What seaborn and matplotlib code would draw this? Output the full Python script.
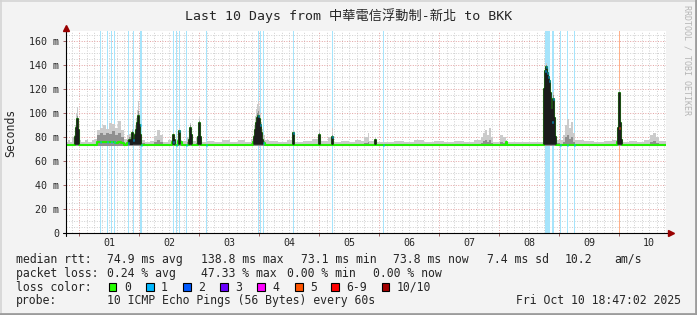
import numpy as np
import matplotlib
matplotlib.use("Agg")
import matplotlib.pyplot as plt
from matplotlib.lines import Line2D
from matplotlib.patches import Rectangle
from matplotlib.ticker import FixedLocator, MultipleLocator, NullFormatter
import seaborn as sns

# ---------------- data (hours since 2025-10-01 00:00) ----------------
start_hour, end_hour = -5.22, 234.78

hours = [
    -5.2, -4.4, -3.6, -2.8, -2.0, -1.6, -1.2, -0.8, -0.4, 0.0,
    0.8, 2.4, 3.6, 5.2, 6.4, 7.2, 8.4, 9.6, 10.8, 12.0,
    13.2, 14.4, 15.6, 16.8, 18.0, 19.2, 20.0, 20.8, 21.2, 21.6,
    22.4, 22.8, 23.2, 23.6, 24.0, 24.4, 24.8, 26.4, 28.4, 30.0,
    31.2, 32.4, 33.6, 35.6, 37.2, 37.6, 38.0, 38.4, 39.6, 40.0,
    40.4, 41.2, 43.2, 44.0, 44.4, 44.8, 45.2, 46.8, 47.6, 48.0,
    48.4, 48.8, 51.2, 54.0, 57.2, 60.4, 63.6, 66.4, 68.8, 69.6,
    70.0, 70.4, 70.8, 71.2, 71.6, 72.0, 72.4, 72.8, 73.2, 73.6,
    74.4, 76.0, 79.6, 83.2, 85.6, 86.0, 89.6, 93.2, 96.0, 96.4,
    99.6, 101.2, 101.6, 104.8, 108.0, 110.4, 112.8, 114.0, 115.6, 116.0,
    118.4, 118.8, 122.0, 126.0, 130.0, 134.0, 138.0, 142.0, 146.0, 150.0,
    154.0, 158.0, 160.8, 161.6, 162.4, 163.2, 164.0, 164.8, 165.6, 168.4,
    169.6, 170.8, 171.2, 175.0, 180.0, 184.0, 186.0, 186.4, 186.8, 187.2,
    187.6, 188.0, 188.4, 188.8, 189.2, 189.6, 190.0, 190.4, 190.8, 192.4,
    193.6, 194.4, 195.2, 196.0, 196.8, 197.6, 198.4, 202.0, 206.0, 210.0,
    213.2, 215.2, 215.6, 216.0, 216.4, 216.8, 217.2, 220.0, 223.2, 226.0,
    228.4, 229.6, 230.8, 232.0, 234.8,
]

median_ms = [
    73.8, 73.6, 73.8, 73.6, 74.0, 80.0, 88.0, 95.0, 86.0, 74.0,
    73.6, 73.8, 73.6, 73.6, 73.8, 75.8, 76.0, 76.0, 76.2, 75.8,
    76.0, 75.5, 75.8, 75.5, 74.0, 75.0, 78.0, 76.0, 84.0, 78.0,
    82.0, 86.0, 92.0, 98.0, 90.0, 82.0, 74.0, 73.6, 73.8, 74.0,
    74.0, 74.0, 73.6, 73.8, 76.0, 82.0, 78.0, 73.6, 77.0, 85.0,
    76.0, 73.8, 74.0, 78.0, 88.0, 82.0, 74.0, 74.0, 80.0, 92.0,
    80.0, 74.0, 73.8, 73.6, 73.8, 73.6, 73.8, 73.8, 74.0, 76.0,
    80.0, 86.0, 92.0, 96.0, 98.0, 95.0, 90.0, 84.0, 78.0, 75.0,
    74.0, 73.8, 73.8, 73.8, 84.0, 73.8, 73.8, 73.6, 82.0, 74.0,
    73.8, 80.0, 74.0, 73.8, 73.8, 74.0, 74.0, 74.0, 74.0, 74.0,
    78.0, 73.8, 73.6, 73.8, 73.6, 73.8, 73.6, 73.8, 73.6, 73.8,
    73.6, 73.8, 74.0, 74.0, 74.0, 74.0, 74.0, 74.0, 73.8, 74.0,
    74.0, 76.0, 73.8, 73.6, 73.8, 73.6, 120.0, 135.0, 139.0, 134.0,
    130.0, 127.0, 117.0, 103.0, 93.0, 112.0, 96.0, 80.0, 74.0, 74.0,
    74.0, 74.0, 74.0, 74.0, 74.0, 74.0, 73.8, 73.8, 73.6, 73.8,
    74.0, 76.0, 88.0, 117.0, 92.0, 78.0, 74.0, 73.8, 73.6, 74.0,
    74.0, 74.0, 74.0, 73.8, 73.8,
]

dense_ms = [
    73.8, 73.6, 73.8, 74.5, 76.0, 84.0, 92.0, 98.0, 90.0, 74.0,
    73.6, 73.8, 73.6, 73.6, 74.0, 82.0, 84.0, 82.0, 84.0, 83.0,
    85.0, 82.0, 84.0, 80.0, 75.0, 78.0, 80.0, 78.0, 85.0, 80.0,
    86.0, 90.0, 96.0, 102.0, 94.0, 84.0, 75.0, 73.6, 73.8, 76.0,
    78.0, 76.0, 73.6, 74.0, 78.0, 83.0, 79.0, 73.6, 78.0, 86.0,
    76.0, 73.8, 76.0, 80.0, 90.0, 84.0, 74.0, 75.0, 82.0, 94.0,
    82.0, 74.0, 73.8, 73.6, 73.8, 73.6, 73.8, 73.8, 75.0, 78.0,
    84.0, 90.0, 96.0, 100.0, 102.0, 99.0, 94.0, 88.0, 82.0, 77.0,
    74.5, 73.8, 73.8, 73.8, 84.0, 73.8, 73.8, 74.0, 84.0, 74.0,
    74.0, 82.0, 74.0, 73.8, 73.8, 74.0, 74.0, 75.0, 76.0, 74.0,
    78.0, 73.8, 73.6, 73.8, 73.6, 73.8, 73.6, 73.8, 73.6, 73.8,
    73.6, 74.0, 75.0, 77.0, 78.0, 76.0, 78.0, 75.0, 73.8, 76.0,
    75.0, 77.0, 73.8, 73.6, 73.8, 73.6, 124.0, 137.0, 140.0, 136.0,
    132.0, 128.0, 119.0, 105.0, 95.0, 115.0, 99.0, 83.0, 75.0, 74.0,
    76.0, 80.0, 82.0, 79.0, 80.0, 76.0, 74.0, 73.8, 73.6, 73.8,
    74.0, 78.0, 92.0, 118.0, 95.0, 80.0, 74.0, 73.8, 73.6, 74.0,
    76.0, 77.0, 75.0, 73.8, 73.8,
]

smoke_ms = [
    76.5, 78.0, 76.0, 80.0, 82.0, 90.0, 100.0, 105.0, 96.0, 78.0,
    76.5, 78.0, 76.0, 77.5, 79.0, 86.0, 88.0, 90.0, 87.0, 92.0,
    91.0, 88.0, 94.0, 86.0, 79.0, 82.0, 83.0, 81.0, 87.0, 84.0,
    90.0, 96.0, 103.0, 110.0, 100.0, 88.0, 78.0, 76.0, 77.0, 81.0,
    86.0, 82.0, 76.5, 78.0, 80.0, 84.0, 80.0, 76.0, 80.0, 88.0,
    78.0, 77.0, 80.0, 84.0, 92.0, 86.0, 77.0, 80.0, 86.0, 98.0,
    86.0, 76.0, 77.0, 76.0, 77.5, 76.0, 78.0, 76.5, 79.0, 82.0,
    90.0, 98.0, 104.0, 108.0, 110.0, 106.0, 100.0, 93.0, 87.0, 82.0,
    78.0, 77.0, 76.5, 78.0, 86.0, 76.5, 77.0, 79.0, 87.0, 77.0,
    80.0, 88.0, 76.5, 77.0, 76.5, 78.0, 77.0, 80.0, 84.0, 77.0,
    80.0, 76.0, 76.5, 77.0, 76.0, 77.5, 76.0, 77.0, 76.5, 77.0,
    76.0, 78.0, 80.0, 84.0, 86.0, 82.0, 88.0, 80.0, 76.5, 82.0,
    80.0, 78.0, 76.0, 76.0, 76.5, 76.0, 128.0, 140.0, 142.0, 138.0,
    134.0, 130.0, 122.0, 108.0, 98.0, 118.0, 102.0, 86.0, 78.0, 78.0,
    82.0, 90.0, 95.0, 88.0, 93.0, 84.0, 78.0, 77.0, 76.0, 77.0,
    78.0, 80.0, 98.0, 120.0, 100.0, 82.0, 76.0, 77.0, 76.5, 78.0,
    82.0, 84.0, 80.0, 77.0, 77.0,
]

loss_hours = [8.3, 11.1, 12.8, 14.0, 19.6, 21.6, 24.2, 24.8, 37.5, 38.8,
              40.0, 42.8, 50.7, 71.6, 72.4, 73.6, 85.6, 101.2, 121.6, 186.4,
              186.8, 187.2, 187.6, 188.0, 189.2, 189.6, 192.4, 195.2, 198.0, 215.8]
loss_count = [1, 1, 1, 1, 1, 1, 1, 1, 1, 1,
              1, 1, 1, 1, 1, 1, 1, 1, 1, 1,
              1, 1, 1, 1, 1, 1, 1, 1, 1, 5]

day_labels = ["01", "02", "03", "04", "05", "06", "07", "08", "09", "10"]
y_ticks = [0, 20, 40, 60, 80, 100, 120, 140, 160]
y_tick_labels = ["0", "20 m", "40 m", "60 m", "80 m", "100 m", "120 m", "140 m", "160 m"]

legend_labels = ["0", "1", "2", "3", "4", "5", "6-9", "10/10"]
legend_colors = ["#26ff00", "#00b8ff", "#0059ff", "#6a00ff", "#ff00ff", "#ff5500", "#ff0000", "#a10000"]
band_colors = {1: "#a6e4fb", 5: "#ffb08a"}
line_colors = {1: "#00b8ff", 5: "#ff5500"}

title = "Last 10 Days from 中華電信浮動制-新北 to BKK"

# ---------------- style ----------------
sns.set_style("white")
plt.rcParams['font.family'] = ['DejaVu Sans Mono', 'Noto Sans CJK TC']
plt.rcParams['axes.unicode_minus'] = False

BG = "#f3f3f3"
W, H = 697, 315
fig = plt.figure(figsize=(W / 100, H / 100), dpi=100, facecolor=BG)


def fx(px):
    return px / W


def fy(py):
    return 1 - py / H


ax_l, ax_r, ax_t, ax_b = 66, 666, 31, 233.3
ax = fig.add_axes([fx(ax_l), fy(ax_b), (ax_r - ax_l) / W, (ax_b - ax_t) / H])
ax.set_facecolor("white")
ax.set_xlim(start_hour, end_hour)
ax.set_ylim(0, 168.6)

# grid
midnights = [24 * k for k in range(10)]
ax.xaxis.set_major_locator(FixedLocator(midnights))
ax.xaxis.set_minor_locator(MultipleLocator(3))
ax.xaxis.set_major_formatter(NullFormatter())
ax.yaxis.set_major_locator(FixedLocator(y_ticks))
ax.yaxis.set_minor_locator(MultipleLocator(5))
ax.set_yticklabels(y_tick_labels, fontsize=7.2)
ax.grid(True, which="minor", color="#cfcfcf", linestyle=(0, (1, 1.6)), linewidth=0.7)
ax.grid(True, which="major", color="#e2a0a0", linestyle=(0, (1, 1.6)), linewidth=0.7)
ax.set_axisbelow(True)
ax.tick_params(axis="y", which="major", length=2.2, width=0.7, color="#a06060", pad=2.5, left=True)
ax.tick_params(axis="x", which="major", length=2.2, width=0.7, color="#a06060", bottom=True)
ax.tick_params(which="minor", length=0)
for s in ax.spines.values():
    s.set_visible(False)

# loss bands
for t, c in zip(loss_hours, loss_count):
    ax.axvspan(t, t + 0.45, color=band_colors[c], lw=0, zorder=1.5)

# smoke
floor = 73.1
ax.fill_between(hours, floor, smoke_ms, step="post", color="#cbcbcb", lw=0, zorder=2)
ax.fill_between(hours, floor, dense_ms, step="post", color="#8f8f8f", lw=0, zorder=2.2)

# median line
sns.lineplot(x=hours, y=median_ms, ax=ax, drawstyle="steps-post", color="#22f000",
             linewidth=1.5, estimator=None, sort=False, legend=False, zorder=3)
med = np.array(median_ms)
spike = med > 77.0
core_floor = 74.2
core_top = np.where(spike, med, core_floor)
core_mask = spike | np.r_[False, spike[:-1]]
ax.fill_between(hours, core_floor, core_top, where=core_mask, step="post",
                facecolor="#1c1c1c", edgecolor="#1c1c1c", lw=1.1, zorder=3.5)

hrs = np.array(hours)
for t, c in zip(loss_hours, loss_count):
    i = np.searchsorted(hrs, t, side="right") - 1
    ax.hlines(med[i], t, t + 0.45, color=line_colors[c], lw=1.8, zorder=4)

# axes lines & arrows
ax.plot([-3 / 600, 1 + 3 / 600], [0, 0], transform=ax.transAxes, color="black", lw=0.8, clip_on=False, zorder=5)
ax.plot([0, 0], [-3 / 202.3, 1 + 1 / 202.3], transform=ax.transAxes, color="black", lw=0.8, clip_on=False, zorder=5)
ax.plot([0], [1 + 3.5 / 202.3], transform=ax.transAxes, marker="^", ms=5, color="#990000", clip_on=False, zorder=6)
ax.plot([1 + 4.5 / 600], [0], transform=ax.transAxes, marker=">", ms=5, color="#990000", clip_on=False, zorder=6)

# day labels at noon
for k, lab in enumerate(day_labels):
    ax.text(12 + 24 * k, -(242.7 - ax_b) / (ax_b - ax_t), lab, transform=ax.get_xaxis_transform(),
            ha="center", va="center", fontsize=7.2)

# titles
fig.text(fx(348.5), fy(15.5), title, ha="center", va="center", fontsize=9.5)
fig.text(fx(11), fy(133), "Seconds", rotation=90, ha="center", va="center", fontsize=8.3)
fig.text(fx(686.5), fy(5), "RRDTOOL / TOBI OETIKER", rotation=270, ha="center", va="top",
         fontsize=6, color="#b5b5b5")

# legend
fs = 8.3
rows_y = [259.3, 273.3, 287.3, 300.7]
row1 = [("median rtt:", 16), ("74.9 ms avg", 107), ("138.8 ms max", 201), ("73.1 ms min", 301),
        ("73.8 ms now", 393), ("7.4 ms sd", 487), ("10.2", 565), ("am/s", 614)]
row2 = [("packet loss:", 16), ("0.24 % avg", 107), ("47.33 % max", 201), ("0.00 % min", 287),
        ("0.00 % now", 373)]
for s, x in row1:
    fig.text(fx(x), fy(rows_y[0]), s, ha="left", va="center", fontsize=fs)
for s, x in row2:
    fig.text(fx(x), fy(rows_y[1]), s, ha="left", va="center", fontsize=fs)
fig.text(fx(16), fy(rows_y[2]), "loss color:", ha="left", va="center", fontsize=fs)
box_x = [108.5, 145.8, 182.8, 220.0, 257.3, 295.0, 331.0, 381.7]
for bx, lab, col in zip(box_x, legend_labels, legend_colors):
    fig.add_artist(Rectangle((fx(bx), fy(291)), 7.7 / W, 8 / H, transform=fig.transFigure,
                             facecolor=col, edgecolor="black", lw=0.8))
    fig.text(fx(bx + 15.3), fy(rows_y[2]), lab, ha="left", va="center", fontsize=fs)
fig.text(fx(16), fy(rows_y[3]), "probe:", ha="left", va="center", fontsize=fs)
fig.text(fx(107), fy(rows_y[3]), "10 ICMP Echo Pings (56 Bytes) every 60s", ha="left", va="center", fontsize=fs)
fig.text(fx(681), fy(rows_y[3]), "Fri Oct 10 18:47:02 2025", ha="right", va="center", fontsize=fs)

# frame
fig.add_artist(Line2D([0, 1], [fy(0.7), fy(0.7)], transform=fig.transFigure, color="#d4d4d4", lw=1.2))
fig.add_artist(Line2D([fx(0.7), fx(0.7)], [0, 1], transform=fig.transFigure, color="#d4d4d4", lw=1.2))
fig.add_artist(Line2D([0, 1], [fy(313.8), fy(313.8)], transform=fig.transFigure, color="#9c9c9c", lw=2))
fig.add_artist(Line2D([fx(695.8), fx(695.8)], [0, 1], transform=fig.transFigure, color="#9c9c9c", lw=2))

fig.savefig("out.png", dpi=100, facecolor=BG)
